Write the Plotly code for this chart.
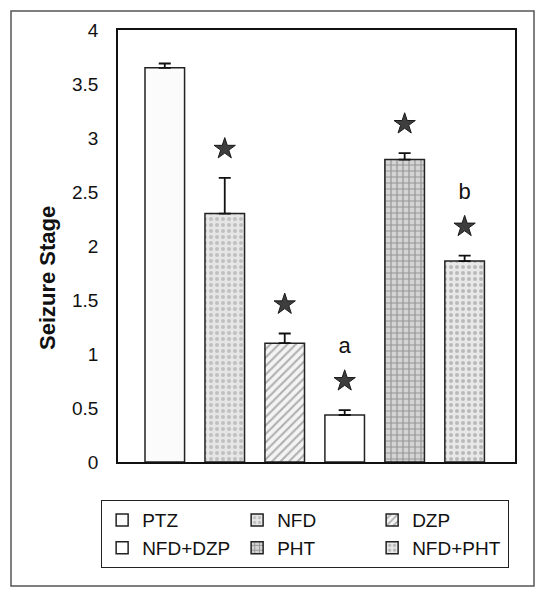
import plotly.graph_objects as go

groups = ["PTZ", "NFD", "DZP", "NFD+DZP", "PHT", "NFD+PHT"]
seizure_stage = [3.65, 2.30, 1.10, 0.435, 2.80, 1.86]
sem = [0.04, 0.33, 0.09, 0.045, 0.06, 0.05]
significant = [False, True, True, True, True, True]
letters = ["", "", "", "a", "", "b"]

fills = ["#fbfbfb", "#e6e6e6", "#f4f4f4", "#ffffff", "#d4d4d4", "#e8e8e8"]
patterns = ["", ".", "/", "", "+", "."]
pattern_fg = ["#cccccc", "#9a9a9a", "#6a6a6a", "#000000", "#555555", "#8a8a8a"]

fig = go.Figure()
for i, g in enumerate(groups):
    fig.add_trace(go.Bar(
        x=[g], y=[seizure_stage[i]], name=g, width=0.66,
        marker=dict(color=fills[i], line=dict(color="#222", width=1.5),
                    pattern=dict(shape=patterns[i], fgcolor=pattern_fg[i], size=6, solidity=0.35)),
        error_y=dict(type="data", array=[sem[i]], arrayminus=[0], symmetric=False,
                     color="#111", thickness=1.8, width=6),
    ))

star_x = [g for g, s in zip(groups, significant) if s]
star_y = [v + e + 0.27 for v, e, s in zip(seizure_stage, sem, significant) if s]
fig.add_trace(go.Scatter(x=star_x, y=star_y, mode="markers", showlegend=False,
                         marker=dict(symbol="star", size=16, color="#3e3e3e",
                                     line=dict(color="#1a1a1a", width=1))))
let_x = [g for g, l in zip(groups, letters) if l]
let_y = [v + e + 0.58 for v, e, l in zip(seizure_stage, sem, letters) if l]
let_t = [l for l in letters if l]
fig.add_trace(go.Scatter(x=let_x, y=let_y, mode="text", text=let_t, showlegend=False,
                         textfont=dict(size=22, color="#111", family="Liberation Sans, Arial")))

fig.update_layout(
    width=536, height=593,
    margin=dict(l=118, r=21, t=30, b=131),
    paper_bgcolor="white", plot_bgcolor="white",
    font=dict(family="Liberation Sans, Arial", color="#111"),
    showlegend=True,
    legend=dict(orientation="h", x=-0.043, xanchor="left", y=-0.088, yanchor="top",
                bordercolor="#222", borderwidth=1.2, font=dict(size=19),
                entrywidth=90, entrywidthmode="pixels", itemwidth=30,
                traceorder="normal", tracegroupgap=0),
    xaxis=dict(range=[-0.78, 5.84], showticklabels=False, ticks="", showline=True,
               linecolor="#111", linewidth=1.8, mirror=True, showgrid=False, zeroline=False),
    yaxis=dict(range=[0, 4], dtick=0.5, tickformat="~g", showline=True, linecolor="#111",
               linewidth=1.8, mirror=True, showgrid=False, zeroline=False,
               tickfont=dict(size=19), ticks="", ticklabelstandoff=14),
    annotations=[dict(text="<b>Seizure Stage</b>", xref="paper", yref="paper",
                      x=(47 - 118) / 397, y=(462 - 278) / 432, textangle=-90,
                      showarrow=False, font=dict(size=22, color="#111"),
                      xanchor="center", yanchor="middle")],
    shapes=[dict(type="rect", xref="paper", yref="paper",
                 x0=(11 - 118) / 397, x1=(534 - 118) / 397,
                 y0=(462 - 586) / 432, y1=(462 - 11) / 432,
                 line=dict(color="#555", width=1.5))],
)

fig.write_html("out.html", post_script="document.body.style.margin='0';",
               config={"displayModeBar": False})
